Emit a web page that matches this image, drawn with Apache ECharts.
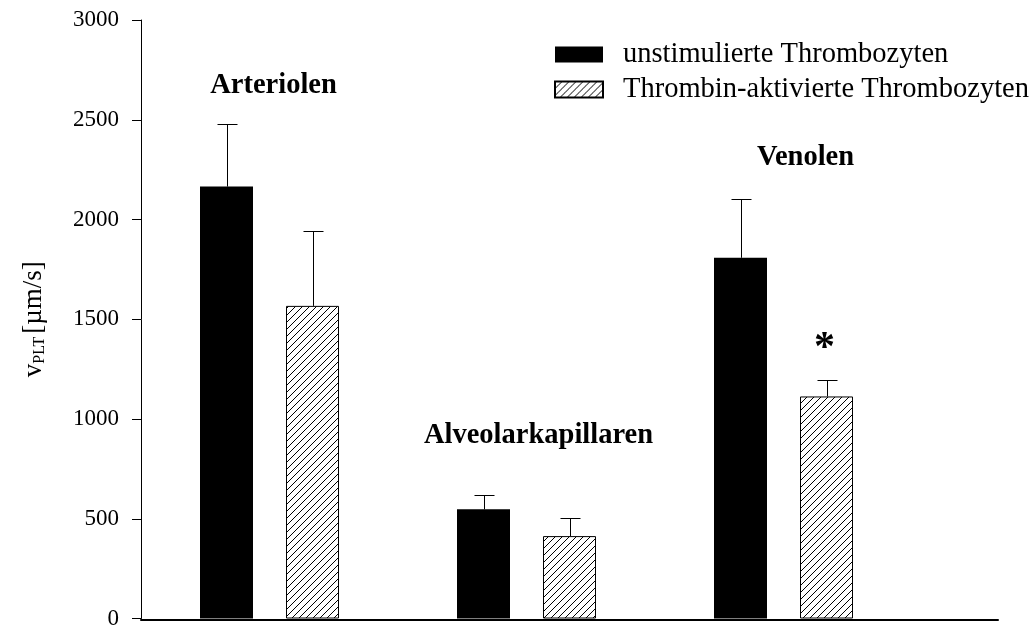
<!DOCTYPE html>
<html>
<head>
<meta charset="utf-8">
<script src="https://cdn.jsdelivr.net/npm/echarts@6/dist/echarts.min.js"></script>
<style>
  html, body { margin: 0; padding: 0; background: #fff; }
  #chart { width: 1034px; height: 630px; }
</style>
</head>
<body>
<div id="chart"></div>
<script>
// Vessel types (one group of two bars each)
const categories = ['Arteriolen', 'Alveolarkapillaren', 'Venolen'];
// Series names
const seriesNames = ['unstimulierte Thrombozyten', 'Thrombin-aktivierte Thrombozyten'];
// Mean platelet velocity [µm/s] and its standard error
const unstimulated = [2165, 547, 1808];
const unstimulatedErr = [312, 73, 295];
const activated = [1567, 413, 1113];
const activatedErr = [375, 90, 84];
// Y-axis ticks
const yTicks = [0, 500, 1000, 1500, 2000, 2500, 3000];

const FONT = '"Liberation Serif", "Times New Roman", serif';
const BAR_W = 53;
const BAR_GAP_PX = 33;
const HALF_STEP = (BAR_W + BAR_GAP_PX) / 2;

// Diagonal hatch tile for the thrombin-activated bars
function hatchPattern() {
  const s = 7;
  const c = document.createElement('canvas');
  c.width = s; c.height = s;
  const g = c.getContext('2d');
  g.fillStyle = '#fff';
  g.fillRect(0, 0, s, s);
  g.strokeStyle = '#000';
  g.lineWidth = 1;
  g.beginPath();
  g.moveTo(-1, 1); g.lineTo(1, -1);
  g.moveTo(0, s); g.lineTo(s, 0);
  g.moveTo(s - 1, s + 1); g.lineTo(s + 1, s - 1);
  g.stroke();
  return c;
}
const hatch = { image: hatchPattern(), repeat: 'repeat' };

// Error bar (upward whisker with cap) drawn at a bar's centre
function errorRenderer(dx) {
  return function (params, api) {
    const cat = api.value(0);
    const v = api.value(1);
    const e = api.value(2);
    const base = api.coord([cat, v]);
    const top = api.coord([cat, v + e]);
    const x = Math.round(base[0] + dx) + 0.5;
    const yTop = Math.round(top[1]) + 0.5;
    const style = { stroke: '#000', lineWidth: 1 };
    return {
      type: 'group',
      children: [
        { type: 'line', shape: { x1: x, y1: base[1], x2: x, y2: yTop }, style },
        { type: 'line', shape: { x1: x - 10, y1: yTop, x2: x + 10, y2: yTop }, style }
      ]
    };
  };
}

const chart = echarts.init(document.getElementById('chart'), null, { renderer: 'canvas' });

const option = {
  backgroundColor: '#fff',
  animation: false,
  textStyle: { fontFamily: FONT, color: '#000' },
  grid: [
    { left: 141, right: 122, top: 20, bottom: 10 },
    { left: 141, right: 36, top: 20, bottom: 10 }
  ],
  legend: {
    orient: 'vertical',
    left: 554,
    top: 40,
    padding: 0,
    itemWidth: 48,
    itemHeight: 16,
    itemGap: 6,
    icon: 'rect',
    textStyle: { fontFamily: FONT, fontSize: 28.5, color: '#000', padding: [0, 0, 0, 15] },
    data: seriesNames
  },
  xAxis: [
    {
      type: 'category', gridIndex: 0, data: categories,
      axisLine: { show: false }, axisTick: { show: false }, axisLabel: { show: false }
    },
    {
      type: 'value', gridIndex: 1, min: 0, max: 1,
      axisLine: { show: true, lineStyle: { color: '#000', width: 2 } },
      axisTick: { show: false }, axisLabel: { show: false }, splitLine: { show: false }
    }
  ],
  yAxis: [
    {
      type: 'value', gridIndex: 0,
      min: yTicks[0], max: yTicks[yTicks.length - 1], interval: yTicks[1] - yTicks[0],
      axisLine: { show: true, lineStyle: { color: '#000', width: 1 } },
      axisTick: { show: true, length: 9, lineStyle: { color: '#000' } },
      axisLabel: {
        fontFamily: FONT, fontSize: 23, color: '#000', margin: 22,
        formatter: v => String(v)
      },
      splitLine: { show: false },
      name: '{v|v}{s|PLT} {u|[µm/s]}',
      nameLocation: 'middle',
      nameRotate: 90,
      nameGap: 93,
      nameTextStyle: {
        fontFamily: FONT, color: '#000',
        rich: {
          v: { fontFamily: FONT, fontSize: 27, color: '#000' },
          s: { fontFamily: FONT, fontSize: 16, color: '#000', verticalAlign: 'bottom', padding: [12, 0, 0, 0] },
          u: { fontFamily: FONT, fontSize: 27, color: '#000' }
        }
      }
    },
    { type: 'value', gridIndex: 1, min: 0, max: 1, show: false }
  ],
  series: [
    {
      name: seriesNames[0], type: 'bar', xAxisIndex: 0, yAxisIndex: 0,
      barWidth: BAR_W, barGap: (BAR_GAP_PX / BAR_W * 100) + '%',
      itemStyle: { color: '#000' },
      data: unstimulated, z: 2
    },
    {
      name: seriesNames[1], type: 'bar', xAxisIndex: 0, yAxisIndex: 0,
      barWidth: BAR_W,
      itemStyle: { color: hatch, borderColor: '#000', borderWidth: 1 },
      data: activated, z: 2
    },
    {
      type: 'custom', xAxisIndex: 0, yAxisIndex: 0, z: 3,
      renderItem: errorRenderer(-HALF_STEP),
      data: unstimulated.map((v, i) => [i, v, unstimulatedErr[i]])
    },
    {
      type: 'custom', xAxisIndex: 0, yAxisIndex: 0, z: 3,
      renderItem: errorRenderer(HALF_STEP),
      data: activated.map((v, i) => [i, v, activatedErr[i]])
    }
  ]
};
chart.setOption(option);

// Group titles and significance mark, anchored in data space
const groupTitles = [
  { text: categories[0], cat: 0, value: 2670, dx: 4 },
  { text: categories[1], cat: 1, value: 917, dx: 12 },
  { text: categories[2], cat: 2, value: 2310, dx: 22 }
];
const marks = [{ text: '*', cat: 2, value: 1350, dx: HALF_STEP - 2 }];

function place(item, size) {
  const p = chart.convertToPixel({ xAxisIndex: 0, yAxisIndex: 0 }, [item.cat, item.value]);
  return {
    type: 'text', x: p[0] + item.dx, y: p[1], z: 10,
    style: {
      text: item.text, fontFamily: FONT, fontWeight: 'bold', fontSize: size,
      fill: '#000', align: 'center', verticalAlign: 'middle'
    }
  };
}
chart.setOption({
  graphic: groupTitles.map(t => place(t, 28.5)).concat(marks.map(m => place(m, 42)))
});
</script>
</body>
</html>
